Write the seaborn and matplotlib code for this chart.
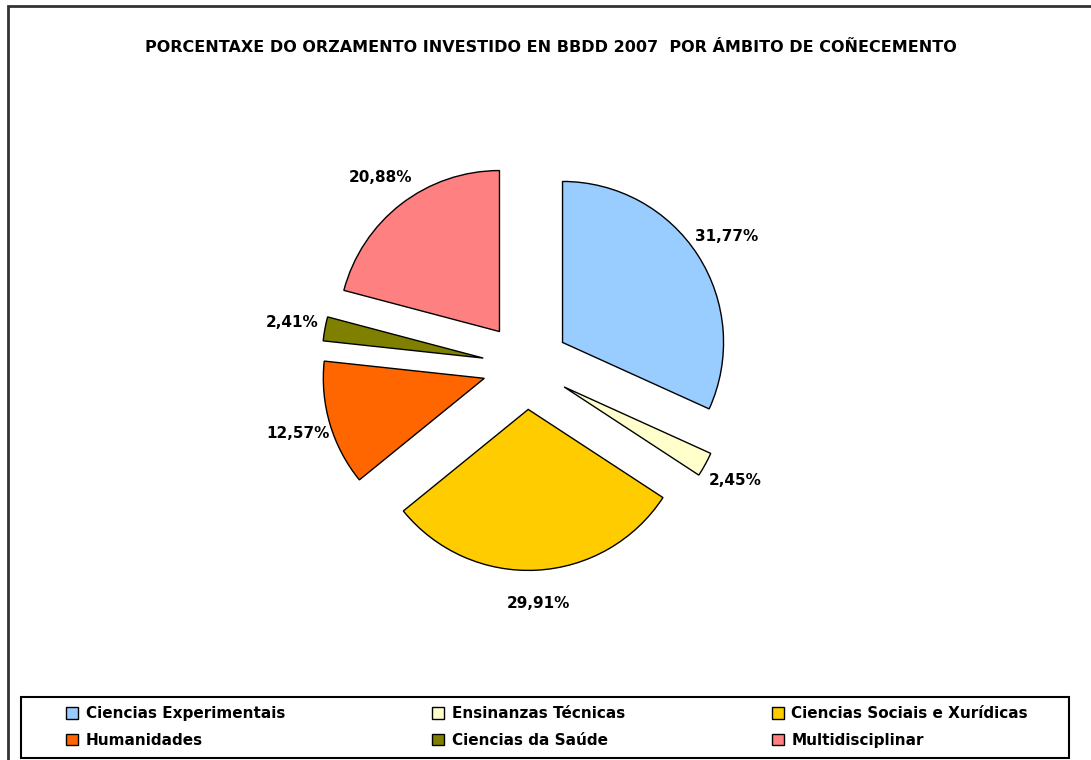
import matplotlib
matplotlib.use("Agg")
import matplotlib.pyplot as plt
import seaborn as sns

# Datos
categorias = ["Ciencias Experimentais", "Ensinanzas Técnicas", "Ciencias Sociais e Xurídicas",
              "Humanidades", "Ciencias da Saúde", "Multidisciplinar"]
porcentaxes = [31.77, 2.45, 29.91, 12.57, 2.41, 20.88]
cores = ["#99CCFF", "#FFFFCC", "#FFCC00", "#FF6600", "#808000", "#FF8080"]
titulo = "PORCENTAXE DO ORZAMENTO INVESTIDO EN BBDD 2007  POR ÁMBITO DE COÑECEMENTO"

sns.set_theme(style="white")
plt.rcParams['font.family'] = ['DejaVu Sans']

W, H = 1091, 760
fig = plt.figure(figsize=(W / 100, H / 100), dpi=100)
fig.patch.set_facecolor('white')

# eixo en unidades de radio (1 unidade = 161 px)
ax = fig.add_axes([0, 0, 1, 1])
esc = 161.0
cx, cy = 526, H - 366

wedges, textos, pcts = ax.pie(
    porcentaxes, colors=cores, startangle=90, counterclock=False,
    explode=[0.27] * len(porcentaxes), radius=1,
    wedgeprops=dict(edgecolor='black', linewidth=1),
    autopct=lambda p: f"{p:.2f}".replace('.', ',') + '%', pctdistance=1.21,
    textprops=dict(fontsize=11, fontweight='bold', color='black'),
)
ax.set_xlim(-cx / esc, (W - cx) / esc)
ax.set_ylim(-cy / esc, (H - cy) / esc)
ax.axis('off')

# título
fig.text(551 / W, 1 - 47 / H, titulo, ha='center', va='center',
         fontsize=11.5, fontweight='bold', color='black')

# lenda (orde por filas)
orde = [0, 3, 1, 4, 2, 5]
leg = fig.legend([wedges[i] for i in orde], [categorias[i] for i in orde],
                 loc='center', ncol=3, mode='expand',
                 bbox_to_anchor=(66 / W, 1 - 757 / H, (1028 - 66) / W, 60 / H),
                 frameon=False, handlelength=0.8, handleheight=0.8, handletextpad=0.5,
                 borderaxespad=0, borderpad=0, labelspacing=0.75,
                 prop=dict(size=11, weight='bold'))
for h in leg.legend_handles:
    h.set_edgecolor('black')
    h.set_linewidth(1)
for t in leg.get_texts():
    t.set_color('black')

# marco da lenda
fig.add_artist(plt.Rectangle((21 / W, 1 - 758 / H), (1069 - 21) / W, (758 - 697) / H,
                             transform=fig.transFigure, fill=False,
                             edgecolor='black', linewidth=1.5))

# bordo exterior
fig.add_artist(plt.Rectangle((8 / W, -0.1), 1.1, 1 - 6 / H + 0.1, transform=fig.transFigure,
                             fill=False, edgecolor='#333333', linewidth=2))

plt.savefig("out.png", dpi=100, facecolor='white')
